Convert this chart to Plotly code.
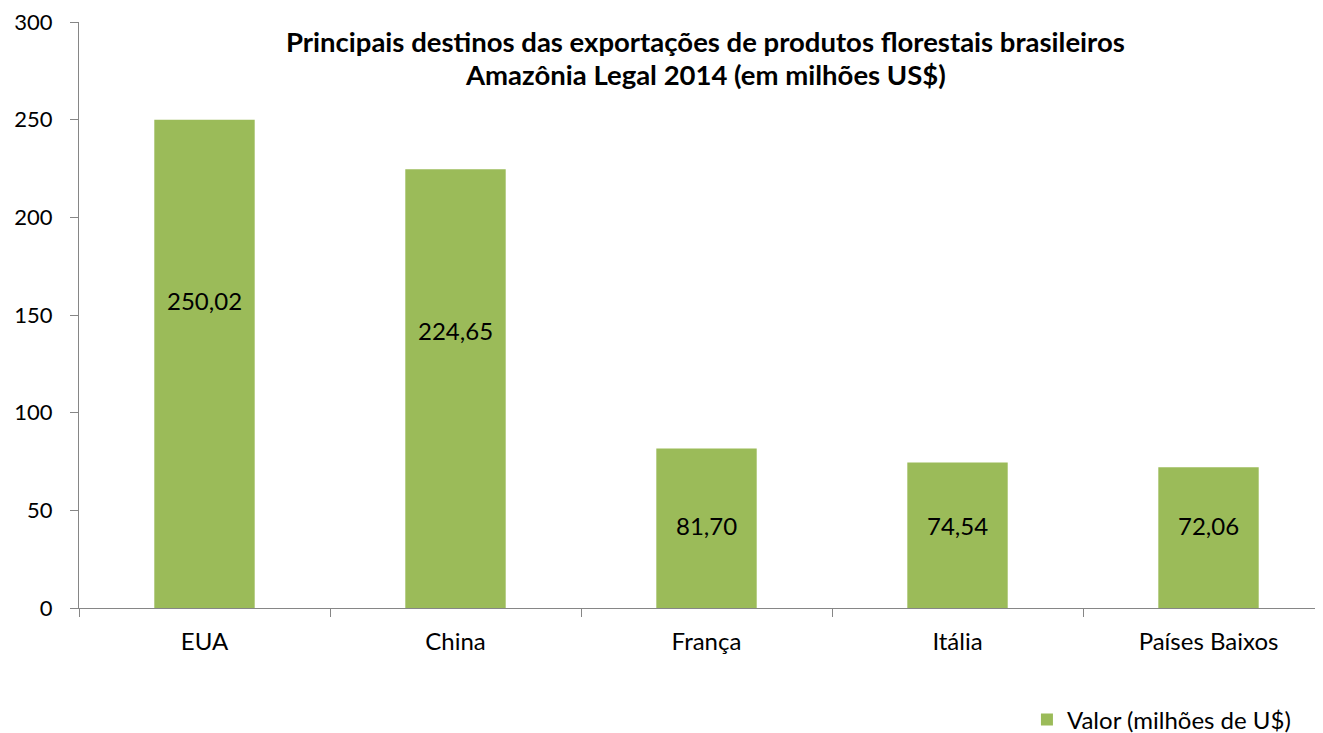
import plotly.graph_objects as go

categories = ["EUA", "China", "França", "Itália", "Países Baixos"]
values = [250.02, 224.65, 81.70, 74.54, 72.06]
value_labels = ["250,02", "224,65", "81,70", "74,54", "72,06"]
series_name = "Valor (milhões de U$)"
title_lines = [
    "Principais destinos das exportações de produtos florestais brasileiros",
    "Amazônia Legal 2014 (em milhões US$)",
]
y_ticks = [0, 50, 100, 150, 200, 250, 300]
# label anchor heights (as placed in the reference)
label_y = [157.5, 142.0, 42.0, 42.0, 42.0]

FONT = "Lato, Carlito, Calibri, sans-serif"
AXIS = "#868686"
GREEN = "#9BBB59"

fig = go.Figure()
fig.add_trace(go.Bar(
    x=categories, y=values, name=series_name,
    marker=dict(color=GREEN, line=dict(width=0)),
    showlegend=True,
))

for c, ly, t in zip(categories, label_y, value_labels):
    fig.add_annotation(x=c, y=ly, text=t, showarrow=False,
                       font=dict(family=FONT, size=24, color="black"),
                       xref="x", yref="y", yanchor="middle")

title_y = [0.966, 0.9096]
for t, yy in zip(title_lines, title_y):
    fig.add_annotation(x=0.5, y=yy, xref="paper", yref="paper", text="<b>" + t + "</b>",
                       showarrow=False, yanchor="middle", xanchor="center",
                       font=dict(family=FONT, size=27.5, color="black"))

fig.update_layout(
    width=1323, height=733,
    margin=dict(l=71, r=0, t=14, b=133, autoexpand=False),
    paper_bgcolor="white", plot_bgcolor="white",
    bargap=0.6,
    font=dict(family=FONT, size=20, color="black"),
    showlegend=True,
    legend=dict(orientation="h", x=0.972, xanchor="right", y=-0.191, yanchor="middle",
                font=dict(family=FONT, size=24, color="black"), bgcolor="rgba(0,0,0,0)",
                itemwidth=30),
)
fig.update_xaxes(
    type="category", range=[-0.5, 4.488],
    showline=True, linecolor=AXIS, linewidth=1,
    ticks="outside", ticklen=8, tickcolor=AXIS, tickson="boundaries",
    showgrid=False, ticklabelstandoff=12,
    tickfont=dict(family=FONT, size=24, color="black"),
)
fig.update_yaxes(
    range=[0, 300], tickvals=y_ticks,
    showline=True, linecolor=AXIS, linewidth=1,
    ticks="outside", ticklen=8, tickcolor=AXIS,
    showgrid=False, zeroline=False, ticklabelstandoff=13,
    ticklabeloverflow="allow",
    tickfont=dict(family=FONT, size=22, color="black"),
)

fig.write_html("out.html")
